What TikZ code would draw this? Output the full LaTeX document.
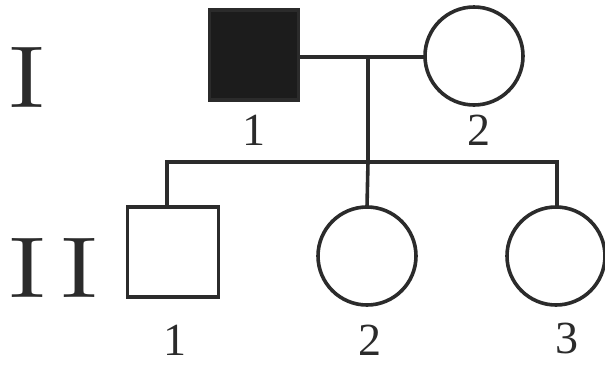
\documentclass[tikz,border=0pt]{standalone}
\usepackage{fontspec}
\setmainfont{Liberation Serif}
\newfontfamily\romanfont{Latin Modern Roman}
\usepackage{graphicx}
\definecolor{ink}{HTML}{2B2B2B}
\definecolor{fillink}{HTML}{1C1C1C}
\newcommand{\genI}[2]{\resizebox{#1}{#2}{I}}
\tikzset{
  ped/.style={draw=ink, line width=3.6pt, inner sep=0pt, outer sep=0pt},
  male/.style={ped, rectangle},
  female/.style={ped, circle, minimum size=98pt},
  lnk/.style={draw=ink, line width=3.6pt},
  num/.style={font=\fontsize{46}{46}\selectfont, text=ink, inner sep=0pt},
  gen/.style={text=ink, inner sep=0pt, font=\romanfont}
}
\begin{document}
\begin{tikzpicture}[x=1pt, y=-1pt]
\useasboundingbox (0,0) rectangle (605,365);
% generation labels
\node[gen] (g1) at (27.5,77) {\genI{35pt}{60pt}};
\node[gen] (g2) at (53.5,267.5) {\genI{36pt}{59pt}\hspace{15pt}\genI{36pt}{59pt}};
% generation I
\node[male, fill=fillink, minimum width=89pt, minimum height=90pt] (f) at (254,55) {};
\node[female] (m) at (474,56) {};
\node[num] (f1) at (254,130) {1};
\node[num] (m2) at (479,130) {2};
% generation II
\node[male, minimum width=91pt, minimum height=90pt] (c1) at (173,252) {};
\node[female] (c2) at (367,256) {};
\node[female] (c3) at (556,256) {};
\node[num] (c1l) at (175,340) {1};
\node[num] (c2l) at (370,340) {2};
\node[num] (c3l) at (567,338) {3};
% connectors
\coordinate (mar) at (368,57);
\coordinate (sib) at (368,162);
\coordinate (sl) at (167,162);
\coordinate (sr) at (557,162);
\draw[lnk] (f.east |- mar) -- (m.west |- mar);
\draw[lnk] (mar) -- (sib);
\draw[lnk, line cap=rect] (sl) -- (sr);
\draw[lnk] (sl) -- (sl |- c1.north);
\draw[lnk] (sib) -- (c2.north);
\draw[lnk] (sr) -- (sr |- c3.north);
\end{tikzpicture}
\end{document}
